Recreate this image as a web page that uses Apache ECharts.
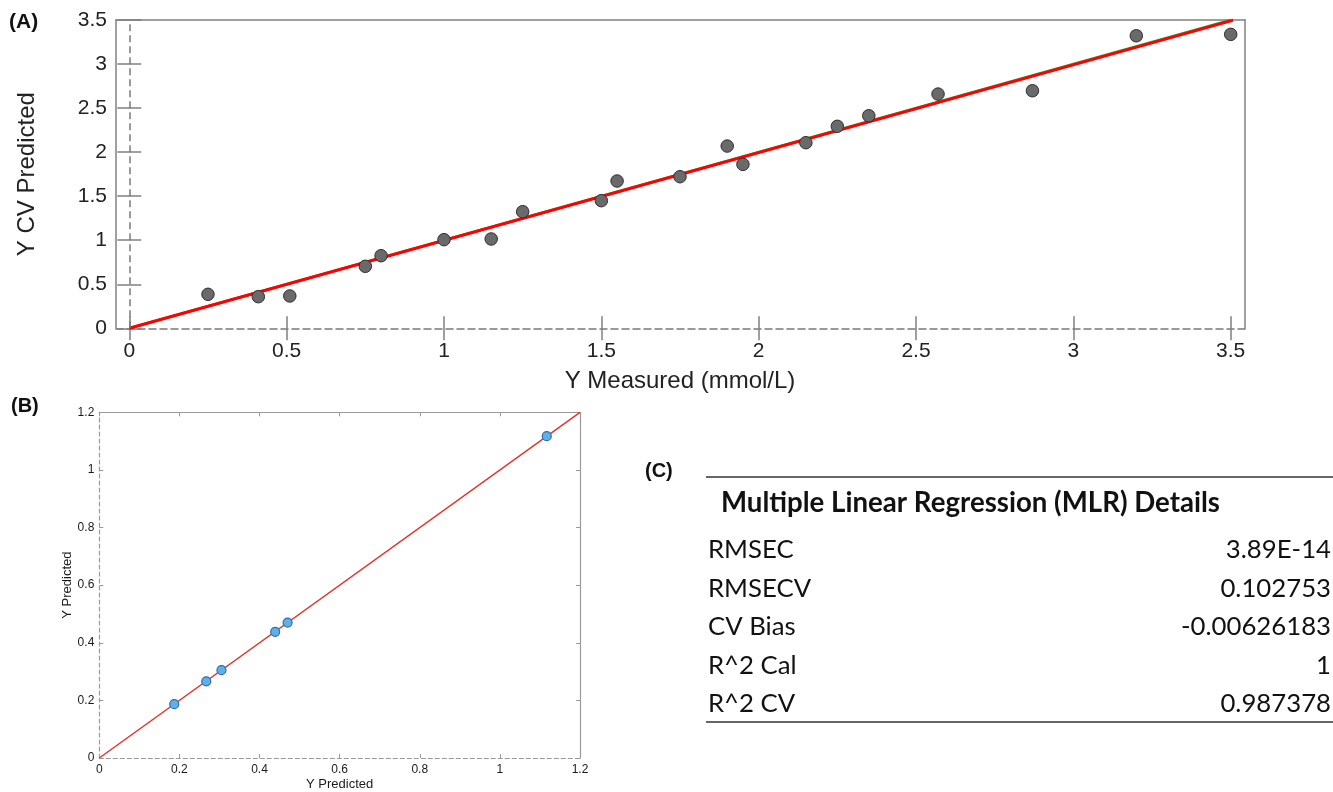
<!DOCTYPE html>
<html>
<head>
<meta charset="utf-8">
<script src="https://cdn.jsdelivr.net/npm/echarts@6/dist/echarts.min.js"></script>
<style>
html,body{margin:0;padding:0;background:#fff;}
#main{width:1333px;height:792px;}
</style>
</head>
<body>
<div id="main"></div>
<script>
// ---- Panel A data: Y Measured vs Y CV Predicted ----
const aMeasured  = [0.25, 0.41, 0.51, 0.75, 0.80, 1.00, 1.15, 1.25, 1.50, 1.55, 1.75, 1.90, 1.95, 2.15, 2.25, 2.35, 2.57, 2.87, 3.20, 3.50];
const aPredicted = [0.386, 0.359, 0.367, 0.704, 0.824, 1.006, 1.014, 1.324, 1.449, 1.672, 1.721, 2.069, 1.861, 2.107, 2.293, 2.413, 2.659, 2.697, 3.321, 3.337];
const aIdentityX = [0, 3.5];
const aIdentityY = [0, 3.5];
const aFitX = [0, 3.51];
const aFitY = [0, 3.5];

// ---- Panel B data ----
const bMeasured  = [0.187, 0.267, 0.305, 0.439, 0.470, 1.117];
const bPredicted = [0.187, 0.266, 0.305, 0.438, 0.470, 1.117];
const bLineX = [0, 1.2];
const bLineY = [0, 1.2];

// ---- Panel C table ----
const tableTitle = 'Multiple Linear Regression (MLR) Details';
const statLabels = ['RMSEC', 'RMSECV', 'CV Bias', 'R^2 Cal', 'R^2 CV'];
const statValues = ['3.89E-14', '0.102753', '-0.00626183', '1', '0.987378'];

const zip = (xs, ys) => xs.map((x, i) => [x, ys[i]]);

function fitSize(text, weight, family, target) {
  const c = document.createElement('canvas').getContext('2d');
  c.font = weight + ' 100px ' + family;
  return 100 * target / c.measureText(text).width;
}
const tFam = 'Lato';
const titleSize = fitSize(tableTitle, 'bold', tFam, 499);
const rowSize = fitSize('-0.00626183', 'normal', tFam, 150);

const sans = '"Liberation Sans", Arial, Helvetica, sans-serif';
const frameGray = '#808080';
const dashGray = '#7a7a7a';

const chart = echarts.init(document.getElementById('main'), null, {renderer: 'canvas'});

function frameAxis(pos, grid, dashed) {
  return {
    type: 'value', gridIndex: grid, position: pos, min: 0, max: 1,
    axisLine: {show: true, onZero: false, lineStyle: {color: dashed ? dashGray : frameGray, width: 1.5, type: dashed ? [7, 4] : 'solid'}},
    axisTick: {show: false}, axisLabel: {show: false}, splitLine: {show: false}
  };
}

const rowY = [550, 588.5, 627, 665.5, 704];
const graphics = [
  {type: 'text', left: 9, top: 12, style: {text: '(A)', font: 'bold 21px ' + sans, fill: '#111'}},
  {type: 'text', left: 11, top: 396, style: {text: '(B)', font: 'bold 20px ' + sans, fill: '#111'}},
  {type: 'text', left: 645, top: 461, style: {text: '(C)', font: 'bold 20px ' + sans, fill: '#111'}},
  {type: 'line', shape: {x1: 706, y1: 477, x2: 1333, y2: 477}, style: {stroke: '#333', lineWidth: 1.5}},
  {type: 'line', shape: {x1: 706, y1: 722, x2: 1333, y2: 722}, style: {stroke: '#333', lineWidth: 1.5}},
  {type: 'text', x: 721, y: 503, style: {text: tableTitle, font: 'bold ' + titleSize.toFixed(2) + 'px ' + tFam, fill: '#111', textVerticalAlign: 'middle', textAlign: 'left'}}
];
statLabels.forEach((lab, i) => {
  graphics.push({type: 'text', x: 708, y: rowY[i], style: {text: lab, font: rowSize.toFixed(2) + 'px ' + tFam, fill: '#111', textVerticalAlign: 'middle', textAlign: 'left'}});
  graphics.push({type: 'text', x: 1331, y: rowY[i], style: {text: statValues[i], font: rowSize.toFixed(2) + 'px ' + tFam, fill: '#111', textVerticalAlign: 'middle', textAlign: 'right'}});
});

const option = {
  animation: false,
  backgroundColor: '#fff',
  grid: [
    {left: 116, top: 20, width: 1129, height: 308.3},
    {left: 129.3, top: 20, width: 1101.4, height: 308.3},
    {left: 99.3, top: 412.3, width: 480.7, height: 346}
  ],
  xAxis: [
    frameAxis('bottom', 0, true),
    frameAxis('top', 0, false),
    {
      type: 'value', gridIndex: 1, position: 'bottom', min: 0, max: 3.5, interval: 0.5,
      axisLine: {show: false},
      axisTick: {show: true, inside: true, length: 12, lineStyle: {color: frameGray, width: 1.5}},
      axisLabel: {fontSize: 21, fontFamily: sans, color: '#222', margin: 12},
      splitLine: {show: false},
      name: 'Y Measured (mmol/L)', nameLocation: 'middle', nameGap: 41,
      nameTextStyle: {fontSize: 24, fontFamily: sans, color: '#222'}
    },
    {
      type: 'value', gridIndex: 1, position: 'top', min: 0, max: 3.5, interval: 0.5,
      axisLine: {show: false},
      axisTick: {show: true, inside: true, length: 12, lineStyle: {color: frameGray, width: 1.5}},
      axisLabel: {show: false}, splitLine: {show: false}
    },
    {
      type: 'value', gridIndex: 2, position: 'bottom', min: 0, max: 1.2, interval: 0.2,
      axisLine: {show: true, onZero: false, lineStyle: {color: '#9a9a9a', width: 1.2, type: [4, 3]}},
      axisTick: {show: true, inside: true, length: 4, lineStyle: {color: '#9a9a9a'}},
      axisLabel: {fontSize: 12, fontFamily: sans, color: '#1a1a1a', margin: 6},
      splitLine: {show: false},
      name: 'Y Predicted', nameLocation: 'middle', nameGap: 20,
      nameTextStyle: {fontSize: 13, fontFamily: sans, color: '#1a1a1a'}
    },
    {
      type: 'value', gridIndex: 2, position: 'top', min: 0, max: 1.2, interval: 0.2,
      axisLine: {show: true, onZero: false, lineStyle: {color: '#9a9a9a', width: 1.2}},
      axisTick: {show: true, inside: true, length: 4, lineStyle: {color: '#9a9a9a'}},
      axisLabel: {show: false}, splitLine: {show: false}
    }
  ],
  yAxis: [
    frameAxis('left', 0, false),
    frameAxis('right', 0, false),
    {
      type: 'value', gridIndex: 1, position: 'left', offset: 13.3, min: 0, max: 3.5, interval: 0.5,
      axisLine: {show: false},
      axisTick: {show: true, inside: true, length: 12, lineStyle: {color: frameGray, width: 1.5}},
      axisLabel: {fontSize: 21, fontFamily: sans, color: '#222', margin: 9},
      splitLine: {show: false},
      name: 'Y CV Predicted', nameLocation: 'middle', nameGap: 77, nameRotate: 90,
      nameTextStyle: {fontSize: 24, fontFamily: sans, color: '#222'}
    },
    {
      type: 'value', gridIndex: 1, position: 'right', offset: 14.3, min: 0, max: 3.5, interval: 0.5,
      axisLine: {show: false},
      axisTick: {show: true, inside: true, length: 12, lineStyle: {color: frameGray, width: 1.5}},
      axisLabel: {show: false}, splitLine: {show: false}
    },
    {
      type: 'value', gridIndex: 2, position: 'left', min: 0, max: 1.2, interval: 0.2,
      axisLine: {show: true, onZero: false, lineStyle: {color: '#9a9a9a', width: 1.2, type: [4, 3]}},
      axisTick: {show: true, inside: true, length: 4, lineStyle: {color: '#9a9a9a'}},
      axisLabel: {fontSize: 12, fontFamily: sans, color: '#1a1a1a', margin: 5},
      splitLine: {show: false},
      name: 'Y Predicted', nameLocation: 'middle', nameGap: 25, nameRotate: 90,
      nameTextStyle: {fontSize: 13, fontFamily: sans, color: '#1a1a1a'}
    },
    {
      type: 'value', gridIndex: 2, position: 'right', min: 0, max: 1.2, interval: 0.2,
      axisLine: {show: true, onZero: false, lineStyle: {color: '#9a9a9a', width: 1.2}},
      axisTick: {show: true, inside: true, length: 4, lineStyle: {color: '#9a9a9a'}},
      axisLabel: {show: false}, splitLine: {show: false}
    }
  ],
  series: [
    {
      type: 'line', xAxisIndex: 2, yAxisIndex: 2, data: zip(aIdentityX, aIdentityY),
      showSymbol: false, symbol: 'none', clip: false, silent: true,
      lineStyle: {color: '#2e9e2e', width: 2.5}, z: 2,
      markLine: {
        silent: true, symbol: 'none', label: {show: false},
        lineStyle: {color: dashGray, width: 1.5, type: [7, 4]},
        data: [{xAxis: 0}]
      }
    },
    {
      type: 'line', xAxisIndex: 2, yAxisIndex: 2, data: zip(aFitX, aFitY),
      showSymbol: false, symbol: 'none', clip: false, silent: true,
      lineStyle: {color: '#ff0000', width: 3}, z: 3
    },
    {
      type: 'scatter', xAxisIndex: 2, yAxisIndex: 2, data: zip(aMeasured, aPredicted),
      symbol: 'circle', symbolSize: 12.5, z: 4,
      itemStyle: {color: '#6a6a6a', borderColor: '#2e2e2e', borderWidth: 1, opacity: 1}
    },
    {
      type: 'line', xAxisIndex: 4, yAxisIndex: 4, data: zip(bLineX, bLineY),
      showSymbol: false, symbol: 'none', silent: true,
      lineStyle: {color: '#e3342c', width: 1.5}, z: 3
    },
    {
      type: 'scatter', xAxisIndex: 4, yAxisIndex: 4, data: zip(bMeasured, bPredicted),
      symbol: 'circle', symbolSize: 9, z: 4,
      itemStyle: {color: '#5fb0e6', borderColor: '#2a6fb5', borderWidth: 1.2, opacity: 1}
    }
  ],
  graphic: graphics
};
chart.setOption(option);
</script>
</body>
</html>
